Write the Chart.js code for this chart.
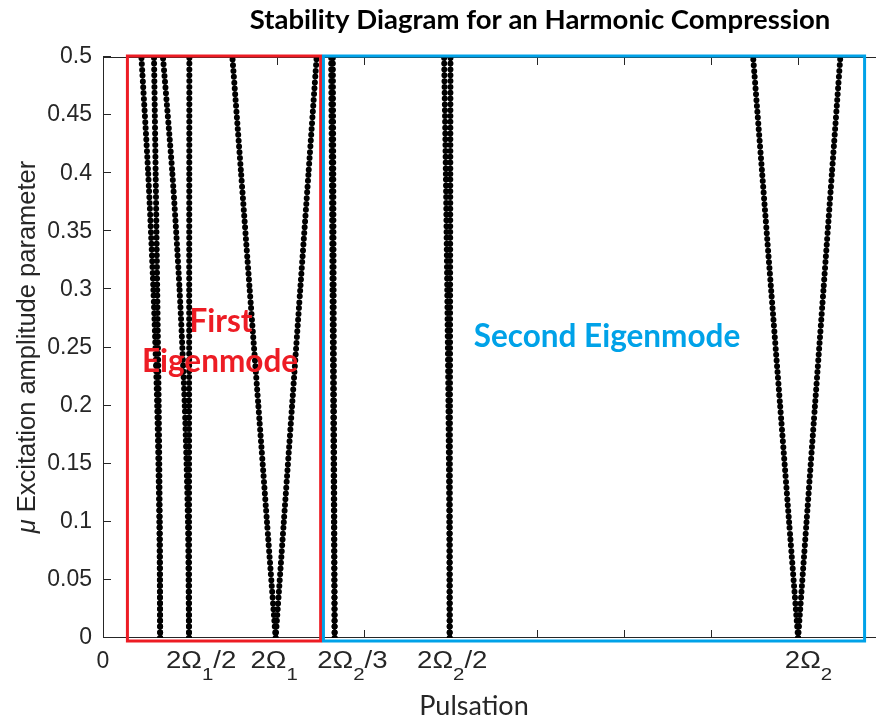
<!DOCTYPE html>
<html>
<head>
<meta charset="utf-8">
<script src="https://cdn.jsdelivr.net/npm/chart.js@4/dist/chart.umd.min.js"></script>
<style>
  html, body { margin: 0; padding: 0; background: #ffffff; overflow: hidden; }
  #wrap { position: relative; width: 900px; height: 720px; }
</style>
</head>
<body>
<div id="wrap"><canvas id="chart"></canvas></div>
<script>
// Excitation amplitude levels at which every boundary is sampled
const muLevels = [0, 0.1, 0.2, 0.3, 0.4, 0.5];

// Instability boundaries: pulsation at each level of muLevels
const tongueThirdOmega1Left   = [0.658, 0.649, 0.624, 0.580, 0.520, 0.442];
const tongueThirdOmega1Right  = [0.658, 0.653, 0.641, 0.624, 0.606, 0.587];
const tongueHalfOmega1Left    = [0.990, 0.978, 0.941, 0.881, 0.798, 0.690];
const tongueHalfOmega1Right   = [0.990, 0.990, 0.991, 0.992, 0.993, 0.994];
const tongueOmega1Left        = [1.987, 1.887, 1.788, 1.688, 1.589, 1.489];
const tongueOmega1Right       = [1.987, 2.081, 2.176, 2.270, 2.365, 2.459];
const tongueThirdOmega2Left   = [2.666, 2.658, 2.650, 2.642, 2.634, 2.626];
const tongueThirdOmega2Right  = [2.666, 2.662, 2.658, 2.654, 2.650, 2.645];
const tongueHalfOmega2Left    = [3.990, 3.986, 3.976, 3.962, 3.946, 3.926];
const tongueHalfOmega2Right   = [3.990, 3.991, 3.993, 3.995, 3.997, 3.999];
const tongueOmega2Left        = [8.000, 7.896, 7.793, 7.689, 7.586, 7.482];
const tongueOmega2Right       = [8.000, 8.097, 8.194, 8.292, 8.389, 8.486];

const boundaries = [
  tongueThirdOmega1Left, tongueThirdOmega1Right,
  tongueHalfOmega1Left, tongueHalfOmega1Right,
  tongueOmega1Left, tongueOmega1Right,
  tongueThirdOmega2Left, tongueThirdOmega2Right,
  tongueHalfOmega2Left, tongueHalfOmega2Right,
  tongueOmega2Left, tongueOmega2Right
];

// Resonance labels under the pulsation axis ("_" marks a subscript)
const resonanceLabels  = ['2Ω_1/2', '2Ω_1', '2Ω_2/3', '2Ω_2/2', '2Ω_2'];
const resonanceLabelAt = [1.13, 1.97, 2.87, 4.02, 8.12];

// Eigenmode regions along the pulsation axis
const regionLabels = [['First', 'Eigenmode'], ['Second Eigenmode']];
const regionFrom   = [0.281, 2.537];
const regionTo     = [2.505, 8.765];

const AXIS = '#262626';
const SANS = '"Liberation Sans", Arial, sans-serif';
const HUMAN = 'Lato, "Open Sans", sans-serif';
const REGION_COLORS = ['#ED1C24', '#00A2E8'];

const datasets = boundaries.map(xs => ({
  data: xs.map((x, i) => ({ x: x, y: muLevels[i] })),
  showLine: true,
  borderColor: '#000000',
  borderWidth: 6,
  borderDash: [0, 5.8],
  borderCapStyle: 'round',
  pointRadius: 0,
  pointHoverRadius: 0,
  tension: 0.25,
  fill: false
}));

// Writes a label such as 2Ω_1/2 with its subscript, widened by sx
function drawTex(ctx, str, cx, baseline, size, subSize, subDrop, sx) {
  const parts = [];
  for (let i = 0; i < str.length; i++) {
    if (str[i] === '_') { parts.push({ t: str[i + 1], sub: true }); i++; }
    else if (parts.length && !parts[parts.length - 1].sub) parts[parts.length - 1].t += str[i];
    else parts.push({ t: str[i], sub: false });
  }
  let total = 0;
  parts.forEach(p => {
    ctx.font = (p.sub ? subSize : size) + 'px ' + SANS;
    p.w = ctx.measureText(p.t).width;
    total += p.w;
  });
  ctx.save();
  ctx.translate(cx, baseline);
  ctx.scale(sx, 1);
  let x = -total / 2;
  ctx.textAlign = 'left';
  ctx.textBaseline = 'alphabetic';
  parts.forEach(p => {
    ctx.font = (p.sub ? subSize : size) + 'px ' + SANS;
    ctx.fillText(p.t, x, p.sub ? subDrop : 0);
    x += p.w;
  });
  ctx.restore();
}

const framePlugin = {
  id: 'frame',
  beforeDatasetsDraw(chart) {
    const { ctx, chartArea: a, scales } = chart;
    ctx.save();
    ctx.strokeStyle = AXIS;
    ctx.lineWidth = 1;
    ctx.beginPath();
    ctx.moveTo(a.left + 0.5, a.top + 0.5);
    ctx.lineTo(a.right - 0.5, a.top + 0.5);
    ctx.lineTo(a.right - 0.5, a.bottom - 0.5);
    ctx.lineTo(a.left + 0.5, a.bottom - 0.5);
    ctx.closePath();
    ctx.stroke();
    const len = 8;
    ctx.beginPath();
    scales.x.ticks.forEach(t => {
      const px = Math.round(scales.x.getPixelForValue(t.value)) + 0.5;
      ctx.moveTo(px, a.top); ctx.lineTo(px, a.top + len);
      ctx.moveTo(px, a.bottom); ctx.lineTo(px, a.bottom - len);
    });
    scales.y.ticks.forEach(t => {
      const py = Math.round(scales.y.getPixelForValue(t.value)) - 0.5;
      ctx.moveTo(a.left, py); ctx.lineTo(a.left + len, py);
      ctx.moveTo(a.right, py); ctx.lineTo(a.right - len, py);
    });
    ctx.stroke();
    ctx.restore();
  },
  afterDraw(chart) {
    const { ctx, scales } = chart;
    const xs = scales.x, ys = scales.y;
    ctx.save();

    // resonance labels
    ctx.fillStyle = AXIS;
    resonanceLabels.forEach((lab, i) => {
      drawTex(ctx, lab, xs.getPixelForValue(resonanceLabelAt[i]), 668, 23, 17, 12, 1.2);
    });

    // axis titles
    ctx.fillStyle = AXIS;
    ctx.font = '27px ' + HUMAN;
    ctx.textAlign = 'center';
    ctx.textBaseline = 'middle';
    ctx.fillText('Pulsation', 474, 706);

    ctx.save();
    ctx.translate(28, 347);
    ctx.rotate(-Math.PI / 2);
    const fs = 25.5;
    ctx.font = 'italic ' + fs + 'px ' + SANS;
    const mu = 'μ ';
    const rest = 'Excitation amplitude parameter';
    const wMu = ctx.measureText(mu).width;
    ctx.font = fs + 'px ' + SANS;
    const wRest = ctx.measureText(rest).width;
    const x0 = -(wMu + wRest) / 2;
    ctx.textAlign = 'left';
    ctx.font = 'italic ' + fs + 'px ' + SANS;
    ctx.fillText(mu, x0, 0);
    ctx.font = fs + 'px ' + SANS;
    ctx.fillText(rest, x0 + wMu, 0);
    ctx.restore();

    // title
    ctx.fillStyle = '#000000';
    ctx.font = 'bold 27.5px ' + HUMAN;
    ctx.textAlign = 'center';
    ctx.textBaseline = 'middle';
    ctx.fillText('Stability Diagram for an Harmonic Compression', 540, 20);

    // eigenmode regions
    const yTop = ys.getPixelForValue(0.5) - 1;
    const yBot = ys.getPixelForValue(0) + 3;
    regionFrom.forEach((from, i) => {
      const l = xs.getPixelForValue(from), r = xs.getPixelForValue(regionTo[i]);
      ctx.strokeStyle = REGION_COLORS[i];
      ctx.lineWidth = 3;
      ctx.strokeRect(l, yTop, r - l, yBot - yTop);
    });
    ctx.font = 'bold 31.5px ' + HUMAN;
    ctx.textAlign = 'center';
    ctx.textBaseline = 'middle';
    ctx.fillStyle = REGION_COLORS[0];
    ctx.fillText(regionLabels[0][0], 221, 322);
    ctx.fillText(regionLabels[0][1], 220, 362);
    ctx.fillStyle = REGION_COLORS[1];
    ctx.fillText(regionLabels[1][0], 607, 337);
    ctx.restore();
  }
};

new Chart(document.getElementById('chart'), {
  type: 'scatter',
  data: { datasets: datasets },
  options: {
    responsive: true,
    maintainAspectRatio: false,
    animation: false,
    events: [],
    layout: { padding: { left: 0, top: 57, right: 15, bottom: 0 } },
    plugins: { legend: { display: false }, tooltip: { enabled: false }, title: { display: false } },
    scales: {
      x: {
        type: 'linear', min: 0, max: 9,
        grid: { display: false, drawTicks: false },
        border: { display: false },
        ticks: {
          stepSize: 1, padding: 10, color: AXIS, maxRotation: 0, autoSkip: false,
          font: { family: SANS, size: 23 },
          callback: v => (v === 0 ? '0' : '')
        },
        afterFit: s => { s.height = 82; }
      },
      y: {
        type: 'linear', min: 0, max: 0.5,
        grid: { display: false, drawTicks: false },
        border: { display: false },
        ticks: {
          stepSize: 0.05, padding: 11, color: AXIS,
          font: { family: SANS, size: 23 },
          callback: v => String(Number(v.toFixed(2)))
        },
        afterFit: s => { s.width = 103; }
      }
    }
  },
  plugins: [framePlugin]
});
</script>
</body>
</html>
